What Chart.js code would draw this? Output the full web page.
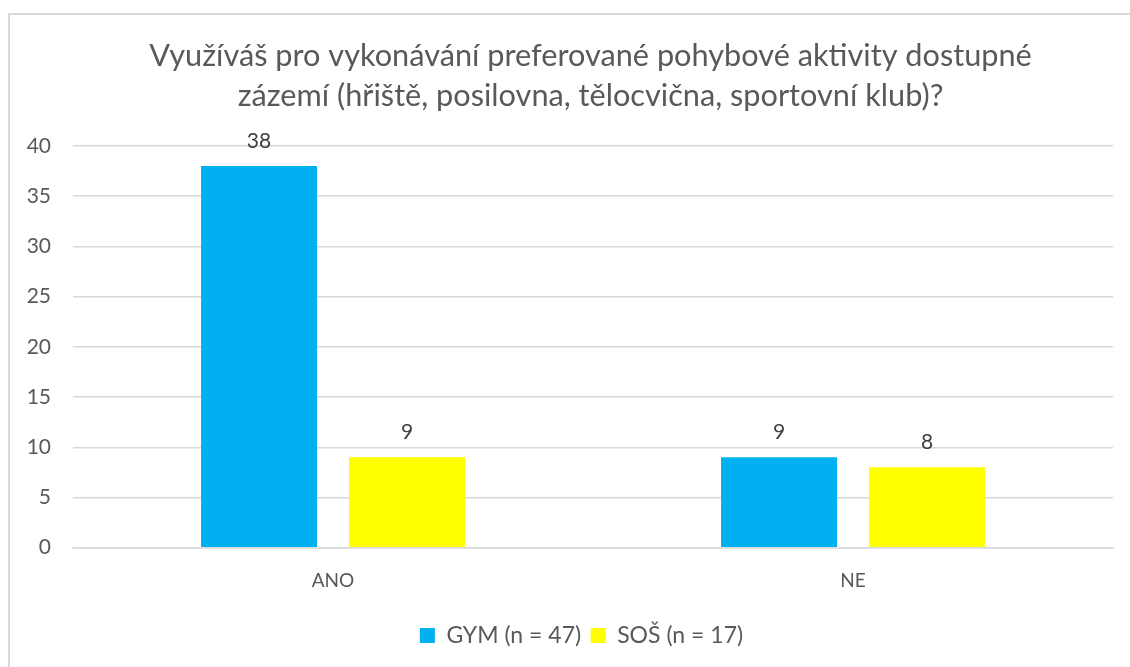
<!DOCTYPE html>
<html>
<head>
<meta charset="utf-8">
<script src="https://cdn.jsdelivr.net/npm/chart.js@4.4.0/dist/chart.umd.min.js"></script>
<style>
  html, body { margin: 0; padding: 0; background: #fff; }
  #wrap { position: relative; width: 1130px; height: 667px; overflow: hidden; }
  #frame { position: absolute; left: 8px; top: 13px; width: 1200px; height: 800px;
           border-left: 2px solid #d9d9d9; border-top: 2px solid #d9d9d9; box-sizing: border-box; }
  canvas { position: absolute; left: 0; top: 0; }
</style>
</head>
<body>
<div id="wrap">
  <div id="frame"></div>
  <canvas id="c" width="1130" height="667"></canvas>
</div>
<script>
const titleLines = ["Využíváš pro vykonávání preferované pohybové aktivity dostupné", "zázemí (hřiště, posilovna, tělocvična, sportovní klub)?"];
const categories = ["ANO", "NE"];
const gymLabel = "GYM (n = 47)";
const sosLabel = "SOŠ (n = 17)";
const gymValues = [38, 9];
const sosValues = [9, 8];
const yTicks = [0, 5, 10, 15, 20, 25, 30, 35, 40];

const FONT = "Lato, 'Open Sans', sans-serif";

const valueLabels = {
  id: 'valueLabels',
  afterDatasetsDraw(chart) {
    const ctx = chart.ctx;
    ctx.save();
    ctx.font = "21px " + FONT;
    ctx.fillStyle = "#404040";
    ctx.textAlign = "center";
    ctx.textBaseline = "alphabetic";
    chart.data.datasets.forEach((ds, i) => {
      const meta = chart.getDatasetMeta(i);
      meta.data.forEach((bar, j) => {
        ctx.fillText(String(ds.data[j]), bar.x, bar.y - 18);
      });
    });
    ctx.restore();
  }
};

// shift title and legend blocks to match the reference's centring
const shiftBlocks = {
  id: 'shiftBlocks',
  afterLayout(chart) {
    const t = chart.titleBlock;
    if (t) { t.left += 34; t.right += 34; }
    const l = chart.legend;
    if (l) {
      l.left += 25; l.right += 25;
      if (l.legendHitBoxes) l.legendHitBoxes.forEach(h => { h.left += 25; });
    }
  }
};

new Chart(document.getElementById('c'), {
  type: 'bar',
  data: {
    labels: categories,
    datasets: [
      { label: gymLabel, data: gymValues, backgroundColor: '#00B0F0',
        categoryPercentage: 0.569, barPercentage: 0.784 },
      { label: sosLabel, data: sosValues, backgroundColor: '#FFFF00',
        categoryPercentage: 0.569, barPercentage: 0.784 }
    ]
  },
  options: {
    responsive: false,
    animation: false,
    devicePixelRatio: 1,
    layout: { padding: { left: 0, right: 17, top: 0, bottom: 10 } },
    plugins: {
      title: {
        display: true,
        text: titleLines,
        color: '#595959',
        font: { family: FONT, size: 30.7, weight: 'normal', lineHeight: 1.303 },
        padding: { top: 36, bottom: 30 }
      },
      legend: {
        display: true,
        position: 'bottom',
        labels: {
          color: '#595959',
          font: { family: FONT, size: 23 },
          boxWidth: 15, boxHeight: 15,
          padding: 9.5
        }
      },
      tooltip: { enabled: false }
    },
    scales: {
      x: {
        grid: { display: false, drawTicks: false },
        border: { display: true, color: '#d9d9d9', width: 1.5 },
        ticks: { color: '#595959', font: { family: FONT, size: 19 }, padding: 22 }
      },
      y: {
        min: 0, max: 40,
        afterFit(scale) { scale.width = 73; },
        afterBuildTicks(scale) { scale.ticks = yTicks.map(v => ({ value: v })); },
        grid: { color: '#d9d9d9', lineWidth: 1.5, drawTicks: false },
        border: { display: false },
        ticks: { color: '#595959', font: { family: FONT, size: 21 }, padding: 22 }
      }
    }
  },
  plugins: [valueLabels, shiftBlocks]
});
</script>
</body>
</html>
